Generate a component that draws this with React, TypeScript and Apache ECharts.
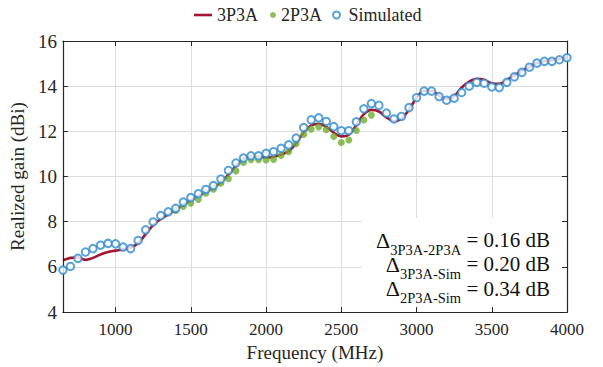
import React, { useEffect, useRef } from "react";
import * as echarts from "echarts";

// Frequency grid (MHz) for simulated and 3P3A data
const freqs = [
  650, 700, 750, 800, 850, 900, 950, 1000, 1050, 1100, 1150, 1200, 1250, 1300, 1350, 1400,
  1450, 1500, 1550, 1600, 1650, 1700, 1750, 1800, 1850, 1900, 1950, 2000, 2050, 2100, 2150,
  2200, 2250, 2300, 2350, 2400, 2450, 2500, 2550, 2600, 2650, 2700, 2750, 2800, 2850, 2900,
  2950, 3000, 3050, 3100, 3150, 3200, 3250, 3300, 3350, 3400, 3450, 3500, 3550, 3600, 3650,
  3700, 3750, 3800, 3850, 3900, 3950, 4000,
];

const gain3P3A = [
  6.29, 6.4, 6.42, 6.31, 6.4, 6.55, 6.66, 6.72, 6.78, 6.86, 7.05, 7.45, 7.85, 8.12, 8.33, 8.53,
  8.75, 8.95, 9.14, 9.32, 9.5, 9.75, 10.08, 10.47, 10.78, 10.88, 10.88, 10.84, 10.88, 10.97, 11.12,
  11.47, 11.95, 12.26, 12.33, 12.2, 11.94, 11.78, 11.85, 12.28, 12.76, 12.95, 12.88, 12.62, 12.45, 12.56,
  12.96, 13.48, 13.8, 13.8, 13.57, 13.42, 13.56, 13.94, 14.2, 14.33, 14.28, 14.13, 14.1, 14.28, 14.48,
  14.68, 14.86, 15.02, 15.1, 15.14, 15.2, 15.27,
];

const gainSim = [
  5.86, 6.02, 6.38, 6.66, 6.81, 6.96, 7.04, 7.02, 6.88, 6.81, 7.17, 7.64, 7.99, 8.27, 8.44, 8.59,
  8.87, 9.07, 9.24, 9.43, 9.6, 9.89, 10.27, 10.6, 10.82, 10.92, 10.92, 11.03, 11.1, 11.25, 11.4,
  11.7, 12.17, 12.51, 12.6, 12.44, 12.21, 12.03, 12.03, 12.42, 13.0, 13.23, 13.15, 12.81, 12.55, 12.66,
  13.05, 13.49, 13.78, 13.78, 13.54, 13.38, 13.47, 13.72, 14.0, 14.17, 14.13, 13.97, 13.94, 14.17, 14.41,
  14.61, 14.84, 15.02, 15.1, 15.1, 15.17, 15.26,
];

const freqs2P3A = [
  1400, 1450, 1500, 1550, 1600, 1650, 1700, 1750, 1800, 1850, 1900, 1950, 2000, 2050, 2100, 2150,
  2200, 2250, 2300, 2350, 2400, 2450, 2500, 2550, 2600, 2650, 2700,
];

const gain2P3A = [
  8.5, 8.68, 8.82, 8.99, 9.26, 9.44, 9.7, 9.9, 10.25, 10.62, 10.75, 10.75, 10.73, 10.76, 10.93, 11.1,
  11.45, 11.86, 12.1, 12.2, 12.07, 11.77, 11.51, 11.62, 12.04, 12.5, 12.72,
];

const seriesNames = ["3P3A", "2P3A", "Simulated"];

const deltaLabels = [
  { sub: "3P3A-2P3A", value: "0.16 dB" },
  { sub: "3P3A-Sim", value: "0.20 dB" },
  { sub: "2P3A-Sim", value: "0.34 dB" },
];

const X_MIN = 650;
const X_MAX = 4000;
const Y_MIN = 4;
const Y_MAX = 16;

const FONT = "Liberation Serif";
const AXIS_COLOR = "#262626";
const TEXT_COLOR = "#111111";
const RED = "#a2142f";
const GREEN = "#6fae2e";
const BLUE = "#2e8bd0";

function measure(text: string, size: number): number {
  const c = document.createElement("canvas");
  const ctx = c.getContext("2d");
  if (!ctx) return text.length * size * 0.5;
  ctx.font = `${size}px ${FONT}`;
  return ctx.measureText(text).width;
}

export default function App() {
  const ref = useRef<HTMLDivElement>(null);

  useEffect(() => {
    if (!ref.current) return;
    const chart = echarts.init(ref.current, null, { renderer: "svg" });

    const xBase = {
      type: "value",
      min: X_MIN,
      max: X_MAX,
      splitNumber: 7,
      minInterval: 500,
      maxInterval: 500,
    };
    const yBase = {
      type: "value",
      min: Y_MIN,
      max: Y_MAX,
      interval: 2,
    };
    const frameAxis = {
      axisLine: { show: true, onZero: false, lineStyle: { color: AXIS_COLOR, width: 1.2 } },
      axisTick: { show: true, inside: true, length: 5, lineStyle: { color: AXIS_COLOR, width: 1 } },
      axisLabel: { show: false },
      splitLine: { show: false },
      z: 5,
    };

    const line3 = freqs.map((f, i) => [f, gain3P3A[i]]);
    const sim = freqs.map((f, i) => [f, gainSim[i]]);
    const dots2 = freqs2P3A.map((f, i) => [f, gain2P3A[i]]);

    const legendText = { fontFamily: FONT, fontSize: 18, color: AXIS_COLOR };

    // annotation texts (Δ with subscript), right-aligned at x = 550
    const RIGHT = 550;
    const annotation: any[] = [];
    deltaLabels.forEach((d, i) => {
      const cy = 240 + i * 24.3;
      const valText = ` = ${d.value}`;
      const wVal = measure(valText, 21);
      const wSub = measure(d.sub, 14.5);
      annotation.push({
        type: "text",
        z: 10,
        x: RIGHT,
        y: cy,
        style: {
          text: valText,
          fontFamily: FONT,
          fontSize: 21,
          lineHeight: 18,
          fill: TEXT_COLOR,
          align: "right",
          verticalAlign: "middle",
        },
      });
      annotation.push({
        type: "text",
        z: 10,
        x: RIGHT - wVal,
        y: cy + 9.5,
        style: {
          text: d.sub,
          fontFamily: FONT,
          fontSize: 14.5,
          lineHeight: 12,
          fill: TEXT_COLOR,
          align: "right",
          verticalAlign: "middle",
        },
      });
      annotation.push({
        type: "text",
        z: 10,
        x: RIGHT - wVal - wSub,
        y: cy,
        style: {
          text: "Δ",
          fontFamily: FONT,
          fontSize: 22,
          lineHeight: 16,
          fill: TEXT_COLOR,
          align: "right",
          verticalAlign: "middle",
        },
      });
    });

    chart.setOption({
      animation: false,
      backgroundColor: "#ffffff",
      grid: { left: 59, right: 36, top: 41, bottom: 54, containLabel: false },
      legend: [
        {
          data: [{ name: seriesNames[0], icon: "rect", itemStyle: { color: RED } }],
          left: 194,
          top: 6,
          padding: 0,
          itemWidth: 18,
          itemHeight: 2.6,
          textStyle: legendText,
        },
        {
          data: [seriesNames[1]],
          left: 270,
          top: 6,
          padding: 0,
          itemWidth: 6,
          itemHeight: 6,
          textStyle: legendText,
        },
        {
          data: [seriesNames[2]],
          left: 332,
          top: 6,
          padding: 0,
          itemWidth: 14,
          itemHeight: 7,
          textStyle: legendText,
        },
      ],
      xAxis: [
        {
          ...xBase,
          position: "bottom",
          axisLine: { show: false },
          axisTick: { show: false },
          axisLabel: {
            show: true,
            showMinLabel: false,
            fontFamily: FONT,
            fontSize: 17,
            color: AXIS_COLOR,
            margin: 9,
            formatter: (v: number) => String(v),
          },
          splitLine: { show: true, lineStyle: { color: "#dedede", width: 1 } },
          name: "Frequency (MHz)",
          nameLocation: "middle",
          nameGap: 29,
          nameTextStyle: { fontFamily: FONT, fontSize: 19, color: AXIS_COLOR },
          z: 0,
        },
        { ...xBase, position: "bottom", ...frameAxis },
        { ...xBase, position: "top", ...frameAxis },
      ],
      yAxis: [
        {
          ...yBase,
          position: "left",
          axisLine: { show: false },
          axisTick: { show: false },
          axisLabel: {
            show: true,
            fontFamily: FONT,
            fontSize: 19,
            color: AXIS_COLOR,
            margin: 6,
            formatter: (v: number) => String(v),
          },
          splitLine: { show: true, lineStyle: { color: "#dedede", width: 1 } },
          name: "Realized gain (dBi)",
          nameLocation: "middle",
          nameGap: 30,
          nameTextStyle: { fontFamily: FONT, fontSize: 19, color: AXIS_COLOR },
          z: 0,
        },
        { ...yBase, position: "left", ...frameAxis },
        { ...yBase, position: "right", ...frameAxis },
      ],
      graphic: [
        {
          type: "rect",
          z: 1,
          shape: { x: 362, y: 218, width: 205, height: 95 },
          style: { fill: "#ffffff" },
          silent: true,
        },
        ...annotation,
      ],
      series: [
        {
          name: seriesNames[0],
          type: "line",
          xAxisIndex: 0,
          yAxisIndex: 0,
          data: line3,
          smooth: 0.35,
          symbol: "none",
          lineStyle: { color: RED, width: 2.6 },
          itemStyle: { color: RED },
          z: 3,
        },
        {
          name: seriesNames[1],
          type: "scatter",
          xAxisIndex: 0,
          yAxisIndex: 0,
          data: dots2,
          symbol: "circle",
          symbolSize: 7,
          itemStyle: { color: GREEN },
          z: 4,
        },
        {
          name: seriesNames[2],
          type: "scatter",
          xAxisIndex: 0,
          yAxisIndex: 0,
          data: sim,
          symbol: "emptyCircle",
          symbolSize: 7.5,
          itemStyle: { color: BLUE, borderColor: BLUE, borderWidth: 1.8 },
          z: 5,
        },
      ],
    });

    return () => chart.dispose();
  }, []);

  return (
    <div
      ref={ref}
      style={{ position: "fixed", left: 0, top: 0, width: 603, height: 367, background: "#fff" }}
    />
  );
}
